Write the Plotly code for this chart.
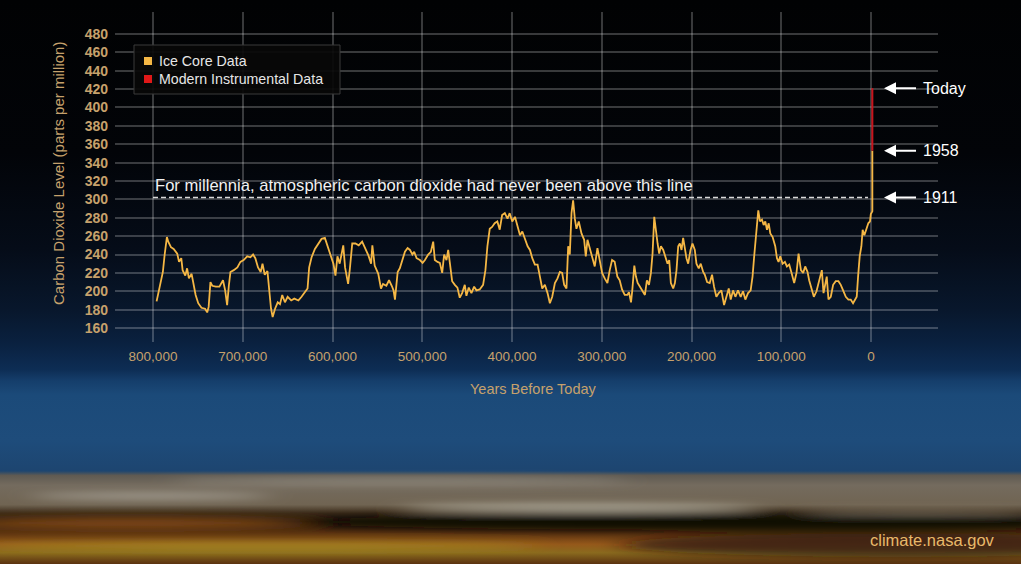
import base64
import plotly.graph_objects as go

# ==============================
# data
# ==============================

# ice core record: years before today and CO2 (ppm)
ice_years = [
    796000, 791500, 789000, 787000, 784500, 783000, 780000, 777000, 773000, 771000,
    768500, 767000, 764000, 762000, 760000, 757000, 755000, 752500, 749600, 746000,
    742000, 739600, 738000, 736000, 734000, 730000, 726000, 722000, 719600, 717400,
    715500, 713700, 710000, 706000, 702600, 699000, 695000, 691500, 688500, 686000,
    683000, 680000, 678000, 675500, 672500, 670500, 668500, 666700, 664000, 661000,
    658500, 656000, 653000, 650000, 646000, 642600, 638000, 634500, 630800, 627800,
    626000, 623300, 619600, 616000, 612200, 608500, 605600, 603000, 599000, 596700,
    594500, 592000, 588000, 586000, 582600, 580800, 578000, 574500, 570800, 567000,
    564000, 560000, 557000, 555600, 553000, 549000, 546000, 543700, 540000, 537000,
    534000, 532000, 530400, 527400, 525000, 522200, 519300, 516300, 513700, 511000,
    509000, 506300, 502600, 499600, 497000, 493400, 490400, 487800, 486000, 483000,
    480400, 477800, 475600, 473000, 471100, 469000, 466700, 463700, 460800, 458200,
    455600, 452600, 450800, 448200, 445200, 442200, 439600, 436000, 432200, 429600,
    427400, 424800, 422200, 419300, 416300, 413700, 411000, 408000, 405000, 402600,
    399700, 396700, 393700, 391100, 388500, 385600, 382600, 380000, 377400, 374500,
    371500, 368900, 366300, 363400, 360400, 357800, 355200, 352200, 349300, 346700,
    344100, 341900, 339300, 337400, 335600, 333700, 331900, 330000, 328200, 325600,
    322600, 319600, 317800, 315900, 313300, 310700, 307800, 304800, 302200, 299600,
    296700, 293700, 291100, 288500, 285600, 282600, 280000, 277400, 274400, 271500,
    269700, 267400, 266000, 263700, 261900, 260000, 257400, 254800, 251900, 249700,
    247400, 245200, 243400, 241500, 239700, 237800, 236000, 234100, 231500, 228900,
    226700, 224800, 223000, 220400, 218500, 216700, 214800, 213000, 211100, 209300,
    207400, 205600, 203700, 201100, 198900, 196300, 194500, 191900, 189700, 187000,
    185200, 182600, 179700, 177100, 174900, 172300, 169700, 166700, 163700, 161100,
    158500, 156300, 153700, 151100, 148200, 145200, 142600, 140000, 137000, 134100,
    132000, 130000, 128500, 127000, 125600, 123700, 121500, 119600, 117800, 115900,
    114000, 112200, 109600, 106700, 104800, 103000, 101100, 98500, 95900, 93700,
    91100, 88500, 85600, 83000, 80700, 78100, 75600, 73300, 70700, 68900,
    66300, 63700, 60700, 57800, 54800, 52900, 51100, 49300, 47400, 44800,
    42200, 39300, 36300, 33700, 31100, 28100, 25200, 22600, 20000, 17800,
    15900, 14400, 12600, 10700, 9300, 7400, 5900, 4400, 3000, 1100,
    200, -1500, -1500,
]
ice_ppm = [
    189, 210, 221, 240, 259, 254, 248, 246, 241, 232,
    236, 223, 217, 225, 214, 219, 208, 196, 187, 182,
    181, 177, 183, 210, 206, 205, 205, 212, 201, 185,
    206, 221, 223, 226, 232, 234, 238, 237, 240, 236,
    226, 221, 230, 218, 222, 197, 181, 172, 181, 188,
    186, 196, 188, 194, 190, 192, 190, 194, 199, 203,
    226, 237, 246, 252, 257, 258, 250, 241, 230, 217,
    238, 230, 250, 226, 208, 223, 252, 252, 250, 254,
    248, 239, 230, 250, 228, 219, 203, 208, 206, 212,
    206, 201, 191, 221, 225, 234, 243, 247, 245, 240,
    243, 236, 234, 231, 234, 240, 243, 254, 234, 232,
    231, 220, 240, 234, 245, 229, 211, 207, 204, 193,
    198, 207, 195, 204, 198, 205, 201, 202, 207, 223,
    249, 268, 270, 274, 276, 267, 283, 285, 279, 285,
    276, 281, 270, 261, 265, 256, 249, 245, 236, 229,
    229, 216, 203, 207, 198, 187, 194, 209, 214, 221,
    220, 207, 203, 249, 240, 285, 299, 279, 268, 276,
    263, 256, 238, 256, 247, 240, 227, 247, 232, 220,
    214, 209, 223, 234, 232, 216, 212, 202, 196, 196,
    199, 188, 201, 228, 216, 209, 205, 201, 196, 212,
    207, 220, 241, 281, 263, 252, 241, 249, 245, 238,
    230, 234, 209, 203, 209, 223, 249, 252, 245, 258,
    245, 236, 230, 245, 252, 245, 230, 225, 230, 221,
    218, 210, 209, 218, 205, 194, 198, 201, 185, 194,
    203, 191, 201, 194, 201, 194, 200, 191, 198, 201,
    216, 240, 258, 274, 288, 276, 278, 272, 276, 267,
    274, 263, 259, 249, 236, 232, 238, 230, 232, 227,
    229, 220, 209, 220, 241, 223, 220, 227, 221, 212,
    203, 194, 200, 212, 223, 198, 209, 216, 191, 194,
    207, 211, 211, 207, 201, 194, 191, 191, 187, 191,
    194, 216, 238, 249, 267, 261, 265, 269, 274, 276,
    284, 287, 353,
]

# modern instrumental record (drawn on top of the ice core spike)
modern_years = [-1500, -1500]
modern_ppm = [353, 421]

# reference line and arrow labels
threshold_ppm = 302
threshold_years = [800000, 3300]
arrow_labels = ["Today", "1958", "1911"]
arrow_ppm = [421, 353, 302]

x_ticks = [800000, 700000, 600000, 500000, 400000, 300000, 200000, 100000, 0]
x_ticktext = ["800,000", "700,000", "600,000", "500,000", "400,000",
              "300,000", "200,000", "100,000", "0"]
y_ticks = list(range(160, 481, 20))

legend_names = ["Ice Core Data", "Modern Instrumental Data"]

# ==============================
# colours / geometry
# ==============================
W, H = 1021, 564
L, R, T, B = 115, 83, 12, 222
PW, PH = W - L - R, H - T - B

ICE = "#f5b745"
RED = "#c8141c"
TAN = "#c6a16c"
FONT = "Liberation Sans, Arial, Helvetica, sans-serif"


def px(x):
    return (x - L) / PW


def py(y):
    return (H - B - y) / PH


# ==============================
# background: dark sky -> blue -> horizon clouds
# ==============================
stops = [
    (0.00, "#010203"), (0.27, "#020408"), (0.44, "#050c18"), (0.55, "#08172c"),
    (0.61, "#0a2140"), (0.655, "#0d2d54"), (0.675, "#153e6b"), (0.70, "#1b4a79"),
    (0.78, "#1e4c7b"), (0.835, "#1d4570"), (0.843, "#5f5a52"), (0.86, "#746b5e"),
    (0.895, "#706452"), (0.91, "#3a2a18"), (0.925, "#1c120a"), (0.945, "#5a3210"),
    (0.965, "#95581a"), (0.98, "#8a6a1e"), (1.00, "#5a3210"),
]
stop_xml = "".join(f'<stop offset="{o}" stop-color="{c}"/>' for o, c in stops)
streaks = [
    (400, 481, 230, 3, "#a29c90", 0.7),
    (150, 496, 120, 3, "#b8b4aa", 0.8),
    (580, 508, 180, 3.5, "#c6c4b6", 0.85),
    (920, 512, 120, 2, "#a8a090", 0.6),
    (720, 522, 420, 8, "#120a04", 0.95),
    (130, 523, 180, 6, "#8a4c18", 0.9),
    (260, 546, 280, 4, "#a89a22", 0.7),
    (900, 545, 280, 12, "#24150a", 0.7),
]
streak_xml = "".join(
    f'<ellipse cx="{cx}" cy="{cy}" rx="{rx}" ry="{ry}" fill="{c}" opacity="{o}"/>'
    for cx, cy, rx, ry, c, o in streaks
)
svg = (
    f'<svg xmlns="http://www.w3.org/2000/svg" width="{W}" height="{H}" '
    f'viewBox="0 0 {W} {H}" preserveAspectRatio="none">'
    f'<defs><linearGradient id="sky" x1="0" y1="0" x2="0" y2="1">{stop_xml}</linearGradient>'
    '<filter id="blur" x="-50%" y="-300%" width="200%" height="700%">'
    '<feGaussianBlur stdDeviation="14 4"/></filter></defs>'
    f'<rect width="{W}" height="{H}" fill="url(#sky)"/>'
    f'<g filter="url(#blur)">{streak_xml}</g></svg>'
)
bg_src = "data:image/svg+xml;base64," + base64.b64encode(svg.encode()).decode()

# ==============================
# figure
# ==============================
fig = go.Figure()

fig.add_trace(go.Scatter(
    x=ice_years, y=ice_ppm, mode="lines",
    line=dict(color=ICE, width=1.8), name=legend_names[0],
    showlegend=False, hoverinfo="skip",
))
fig.add_trace(go.Scatter(
    x=modern_years, y=modern_ppm, mode="lines",
    line=dict(color=RED, width=2), name=legend_names[1],
    showlegend=False, hoverinfo="skip",
))

# dashed "never above this line"
fig.add_shape(
    type="line", xref="x", yref="y",
    x0=threshold_years[0], x1=threshold_years[1], y0=threshold_ppm, y1=threshold_ppm,
    line=dict(color="#d9d9d9", width=1.6, dash="5px,3px"),
)

annotations = []
annotations.append(dict(
    x=threshold_years[0], y=threshold_ppm, xref="x", yref="y",
    text="For millennia, atmospheric carbon dioxide had never been above this line",
    showarrow=False, xanchor="left", yanchor="bottom", yshift=1,
    font=dict(family=FONT, size=16.6, color="#f2f2f2"),
))

for lab, val in zip(arrow_labels, arrow_ppm):
    annotations.append(dict(
        x=-14500, y=val, xref="x", yref="y", text=lab,
        showarrow=True, ax=32, ay=0, xanchor="left", yanchor="middle", borderpad=6,
        arrowhead=2, arrowsize=1.2, arrowwidth=2, arrowcolor="#ffffff",
        font=dict(family=FONT, size=16, color="#ffffff"),
    ))

# axis titles
annotations.append(dict(
    x=px(58), y=py(174), xref="paper", yref="paper", textangle=-90,
    xanchor="center", yanchor="middle",
    text="Carbon Dioxide Level (parts per million)", showarrow=False,
    font=dict(family=FONT, size=15, color=TAN),
))
annotations.append(dict(
    x=px(533), y=py(389), xref="paper", yref="paper",
    xanchor="center", yanchor="middle",
    text="Years Before Today", showarrow=False,
    font=dict(family=FONT, size=14.5, color=TAN),
))
annotations.append(dict(
    x=px(997), y=py(540), xref="paper", yref="paper",
    xanchor="right", yanchor="middle",
    text="climate.nasa.gov", showarrow=False,
    font=dict(family=FONT, size=16.5, color="#e8b96a"),
))

# legend box (drawn by hand to get the square swatches)
shapes = [dict(
    type="rect", xref="paper", yref="paper",
    x0=px(134), x1=px(340), y0=py(94), y1=py(45),
    fillcolor="rgba(8,8,8,0.92)", line=dict(color="#3a3a3a", width=1),
)]
for i, (name, col) in enumerate(zip(legend_names, [ICE, "#e01818"])):
    yc = 61 + 18 * i
    shapes.append(dict(
        type="rect", xref="paper", yref="paper",
        x0=px(144), x1=px(152), y0=py(yc + 4), y1=py(yc - 4),
        fillcolor=col, line=dict(width=0),
    ))
    annotations.append(dict(
        x=px(157), y=py(yc), xref="paper", yref="paper",
        xanchor="left", yanchor="middle",
        text=name, showarrow=False,
        font=dict(family=FONT, size=14.2, color="#e6e6e6"),
    ))

for s in shapes:
    fig.add_shape(**s)

grid = "rgba(255,255,255,0.22)"
fig.update_layout(
    width=W, height=H,
    margin=dict(l=L, r=R, t=T, b=B),
    paper_bgcolor="#000000",
    plot_bgcolor="rgba(0,0,0,0)",
    annotations=annotations,
    images=[dict(
        source=bg_src, xref="paper", yref="paper",
        x=px(0), y=py(0), sizex=W / PW, sizey=H / PH,
        sizing="stretch", xanchor="left", yanchor="top", layer="below",
    )],
    xaxis=dict(
        range=[842340, -74650], tickvals=x_ticks, ticktext=x_ticktext,
        showgrid=True, gridcolor=grid, gridwidth=1.5, zeroline=False,
        showline=False, ticks="", ticklabelstandoff=4,
        tickfont=dict(family=FONT, size=13.5, color=TAN),
    ),
    yaxis=dict(
        range=[144.8, 503.9], tickvals=y_ticks,
        showgrid=True, gridcolor=grid, gridwidth=1.5, zeroline=False,
        showline=False, ticks="", ticklabelstandoff=6,
        tickfont=dict(family=FONT, size=14, color=TAN, weight="bold"),
    ),
    showlegend=False,
)

fig.write_html(
    "out.html",
    config={"displayModeBar": False},
    post_script="document.body.style.margin='0';document.body.style.overflow='hidden';",
)
